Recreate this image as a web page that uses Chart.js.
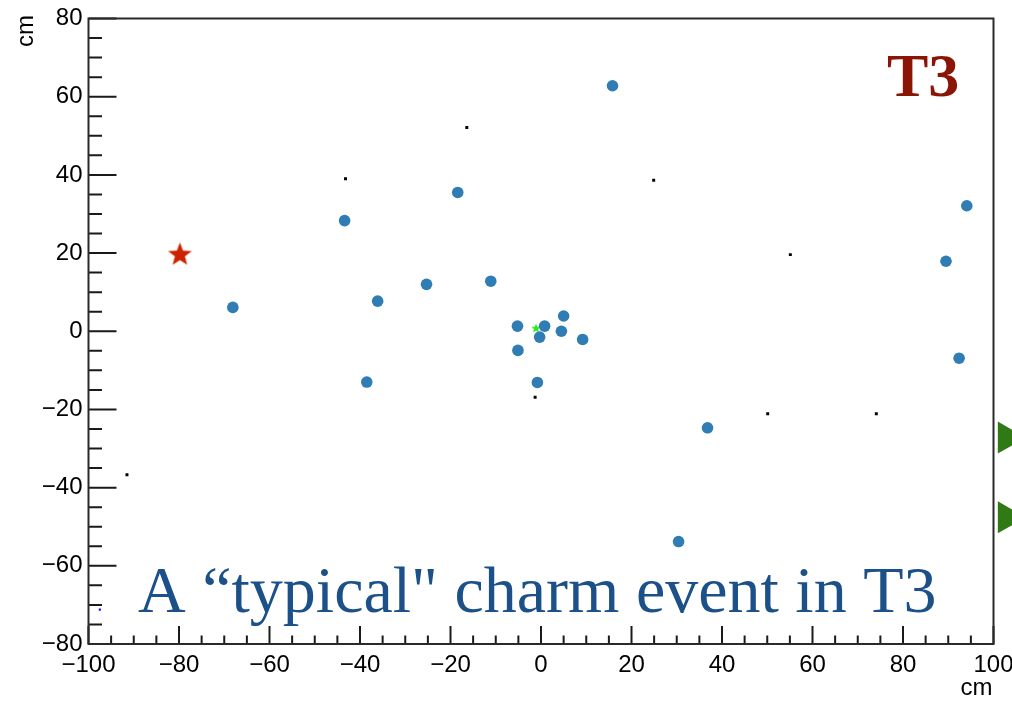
<!DOCTYPE html>
<html>
<head>
  <meta charset="UTF-8">
  <title>T3 charm event</title>
  <script src="https://cdn.jsdelivr.net/npm/chart.js"></script>
  <style>
    body {
      margin: 0;
      background: #ffffff;
    }
    canvas {
      display: block;
    }
  </style>
</head>
<body>
  <canvas id="eventChart" width="1012" height="701"></canvas>

  <script>
    // reconstructed tracks (blue dots)
    const trackX = [15.8, -18.4, -43.4, 94.1, 89.5, -68.1, -36.1, -25.3, -11.1, -5.2, 0.8,
                    -0.3, 5.0, 4.5, 9.2, -5.1, -0.8, -38.5, 36.8, 30.4, 92.4];
    const trackY = [62.8, 35.5, 28.3, 32.1, 17.9, 6.1, 7.7, 12.0, 12.8, 1.3, 1.3,
                    -1.5, 3.9, 0.0, -2.1, -4.9, -13.1, -13.0, -24.7, -53.8, -6.9];

    // small black hits
    const hitX = [-16.4, -43.2, 24.9, 55.1, -1.3, 50.1, 74.1, -91.5];
    const hitY = [52.1, 39.0, 38.6, 19.6, -16.9, -21.1, -21.1, -36.7];

    // single markers
    const starX = [-79.8];
    const starY = [19.8];
    const vertexX = [-1.1];
    const vertexY = [0.8];
    const strayX = [-97.5];
    const strayY = [-71.2];

    // slide arrows on the right edge
    const arrowX = [103.0, 103.0];
    const arrowY = [-27.2, -47.6];

    const xMin = -100, xMax = 100;
    const yMin = -80, yMax = 80;

    function toPoints(xs, ys) {
      return xs.map((x, i) => ({ x: x, y: ys[i] }));
    }

    function makeStar(size, color) {
      const c = document.createElement('canvas');
      c.width = size;
      c.height = size;
      const g = c.getContext('2d');
      const r = size / 2, ri = r * 0.42;
      g.beginPath();
      for (let i = 0; i < 10; i++) {
        const rr = i % 2 === 0 ? r : ri;
        const a = -Math.PI / 2 + i * Math.PI / 5;
        const px = r + Math.cos(a) * rr;
        const py = r * 1.08 + Math.sin(a) * rr;
        if (i === 0) g.moveTo(px, py); else g.lineTo(px, py);
      }
      g.closePath();
      g.fillStyle = color;
      g.fill();
      return c;
    }

    const minus = v => String(v).replace('-', '\u2212');

    // ROOT style inner ticks, frame and texts
    const rootFrame = {
      id: 'rootFrame',
      afterDraw(chart) {
        const { ctx, chartArea, scales } = chart;
        const xs = scales.x, ys = scales.y;
        ctx.save();
        ctx.strokeStyle = '#1a1a1a';
        ctx.lineWidth = 2;
        ctx.beginPath();
        for (let v = xMin; v <= xMax; v += 5) {
          const px = xs.getPixelForValue(v);
          const len = v % 20 === 0 ? 18 : 8.5;
          ctx.moveTo(px, chartArea.bottom);
          ctx.lineTo(px, chartArea.bottom - len);
        }
        for (let v = yMin; v <= yMax; v += 5) {
          const py = ys.getPixelForValue(v);
          const len = v % 20 === 0 ? 28 : 13.5;
          ctx.moveTo(chartArea.left, py);
          ctx.lineTo(chartArea.left + len, py);
        }
        ctx.stroke();

        ctx.strokeStyle = '#2a2a2a';
        ctx.lineWidth = 2;
        ctx.strokeRect(chartArea.left, chartArea.top,
          chartArea.right - chartArea.left, chartArea.bottom - chartArea.top);

        // axis titles
        ctx.fillStyle = '#000';
        ctx.font = '24px "Liberation Sans", Arial, sans-serif';
        ctx.textAlign = 'right';
        ctx.textBaseline = 'alphabetic';
        ctx.fillText('cm', chartArea.right - 1, 695);
        ctx.save();
        ctx.translate(33, 15);
        ctx.rotate(-Math.PI / 2);
        ctx.textAlign = 'right';
        ctx.fillText('cm', 0, 0);
        ctx.restore();

        // slide labels
        ctx.textAlign = 'left';
        ctx.fillStyle = '#8b1505';
        ctx.font = 'bold 62px "Liberation Serif", "DejaVu Serif", serif';
        ctx.fillText('T3', 887, 96);

        ctx.fillStyle = '#1b5089';
        ctx.font = '66px "Liberation Serif", "DejaVu Serif", serif';
        ctx.fillText('A \u201ctypical" charm event in T3', 138, 612);
        ctx.restore();
      }
    };

    const tickFont = { family: '"Liberation Sans", Arial, sans-serif', size: 24 };

    new Chart(document.getElementById('eventChart'), {
      type: 'scatter',
      data: {
        datasets: [
          {
            label: 'hits',
            data: toPoints(hitX, hitY),
            pointStyle: 'rect',
            pointRadius: 2.1,
            backgroundColor: '#000',
            borderWidth: 0
          },
          {
            label: 'stray',
            data: toPoints(strayX, strayY),
            pointStyle: 'rect',
            pointRadius: 1.5,
            backgroundColor: '#1010ff',
            borderWidth: 0
          },
          {
            label: 'tracks',
            data: toPoints(trackX, trackY),
            pointRadius: 5.8,
            backgroundColor: '#2f7db4',
            borderWidth: 0
          },
          {
            label: 'vertex',
            data: toPoints(vertexX, vertexY),
            pointStyle: makeStar(10, '#22ee11'),
            backgroundColor: '#22ee11'
          },
          {
            label: 'star',
            data: toPoints(starX, starY),
            pointStyle: makeStar(25, '#cc2200'),
            backgroundColor: '#cc2200'
          },
          {
            label: 'arrows',
            data: toPoints(arrowX, arrowY),
            pointStyle: 'triangle',
            rotation: 90,
            pointRadius: 18.5,
            backgroundColor: '#2f7a14',
            borderWidth: 0,
            clip: false
          }
        ]
      },
      options: {
        responsive: false,
        animation: false,
        layout: {
          padding: { top: 17, right: 17.5, left: 0, bottom: 0 }
        },
        plugins: {
          legend: { display: false },
          tooltip: { enabled: false }
        },
        scales: {
          x: {
            type: 'linear',
            min: xMin,
            max: xMax,
            grid: { display: false, drawTicks: false },
            border: { display: false },
            ticks: {
              stepSize: 20,
              padding: 7,
              maxRotation: 0,
              color: '#000',
              font: tickFont,
              callback: v => minus(v)
            },
            afterFit(scale) {
              scale.height = 57;
              scale.paddingLeft = 0;
              scale.paddingRight = 0;
            }
          },
          y: {
            type: 'linear',
            min: yMin,
            max: yMax,
            grid: { display: false, drawTicks: false },
            border: { display: false },
            ticks: {
              stepSize: 20,
              padding: 6,
              color: '#000',
              font: tickFont,
              callback: v => minus(v)
            },
            afterFit(scale) {
              scale.width = 88.5;
              scale.paddingTop = 0;
              scale.paddingBottom = 0;
            }
          }
        }
      },
      plugins: [rootFrame]
    });
  </script>
</body>
</html>
